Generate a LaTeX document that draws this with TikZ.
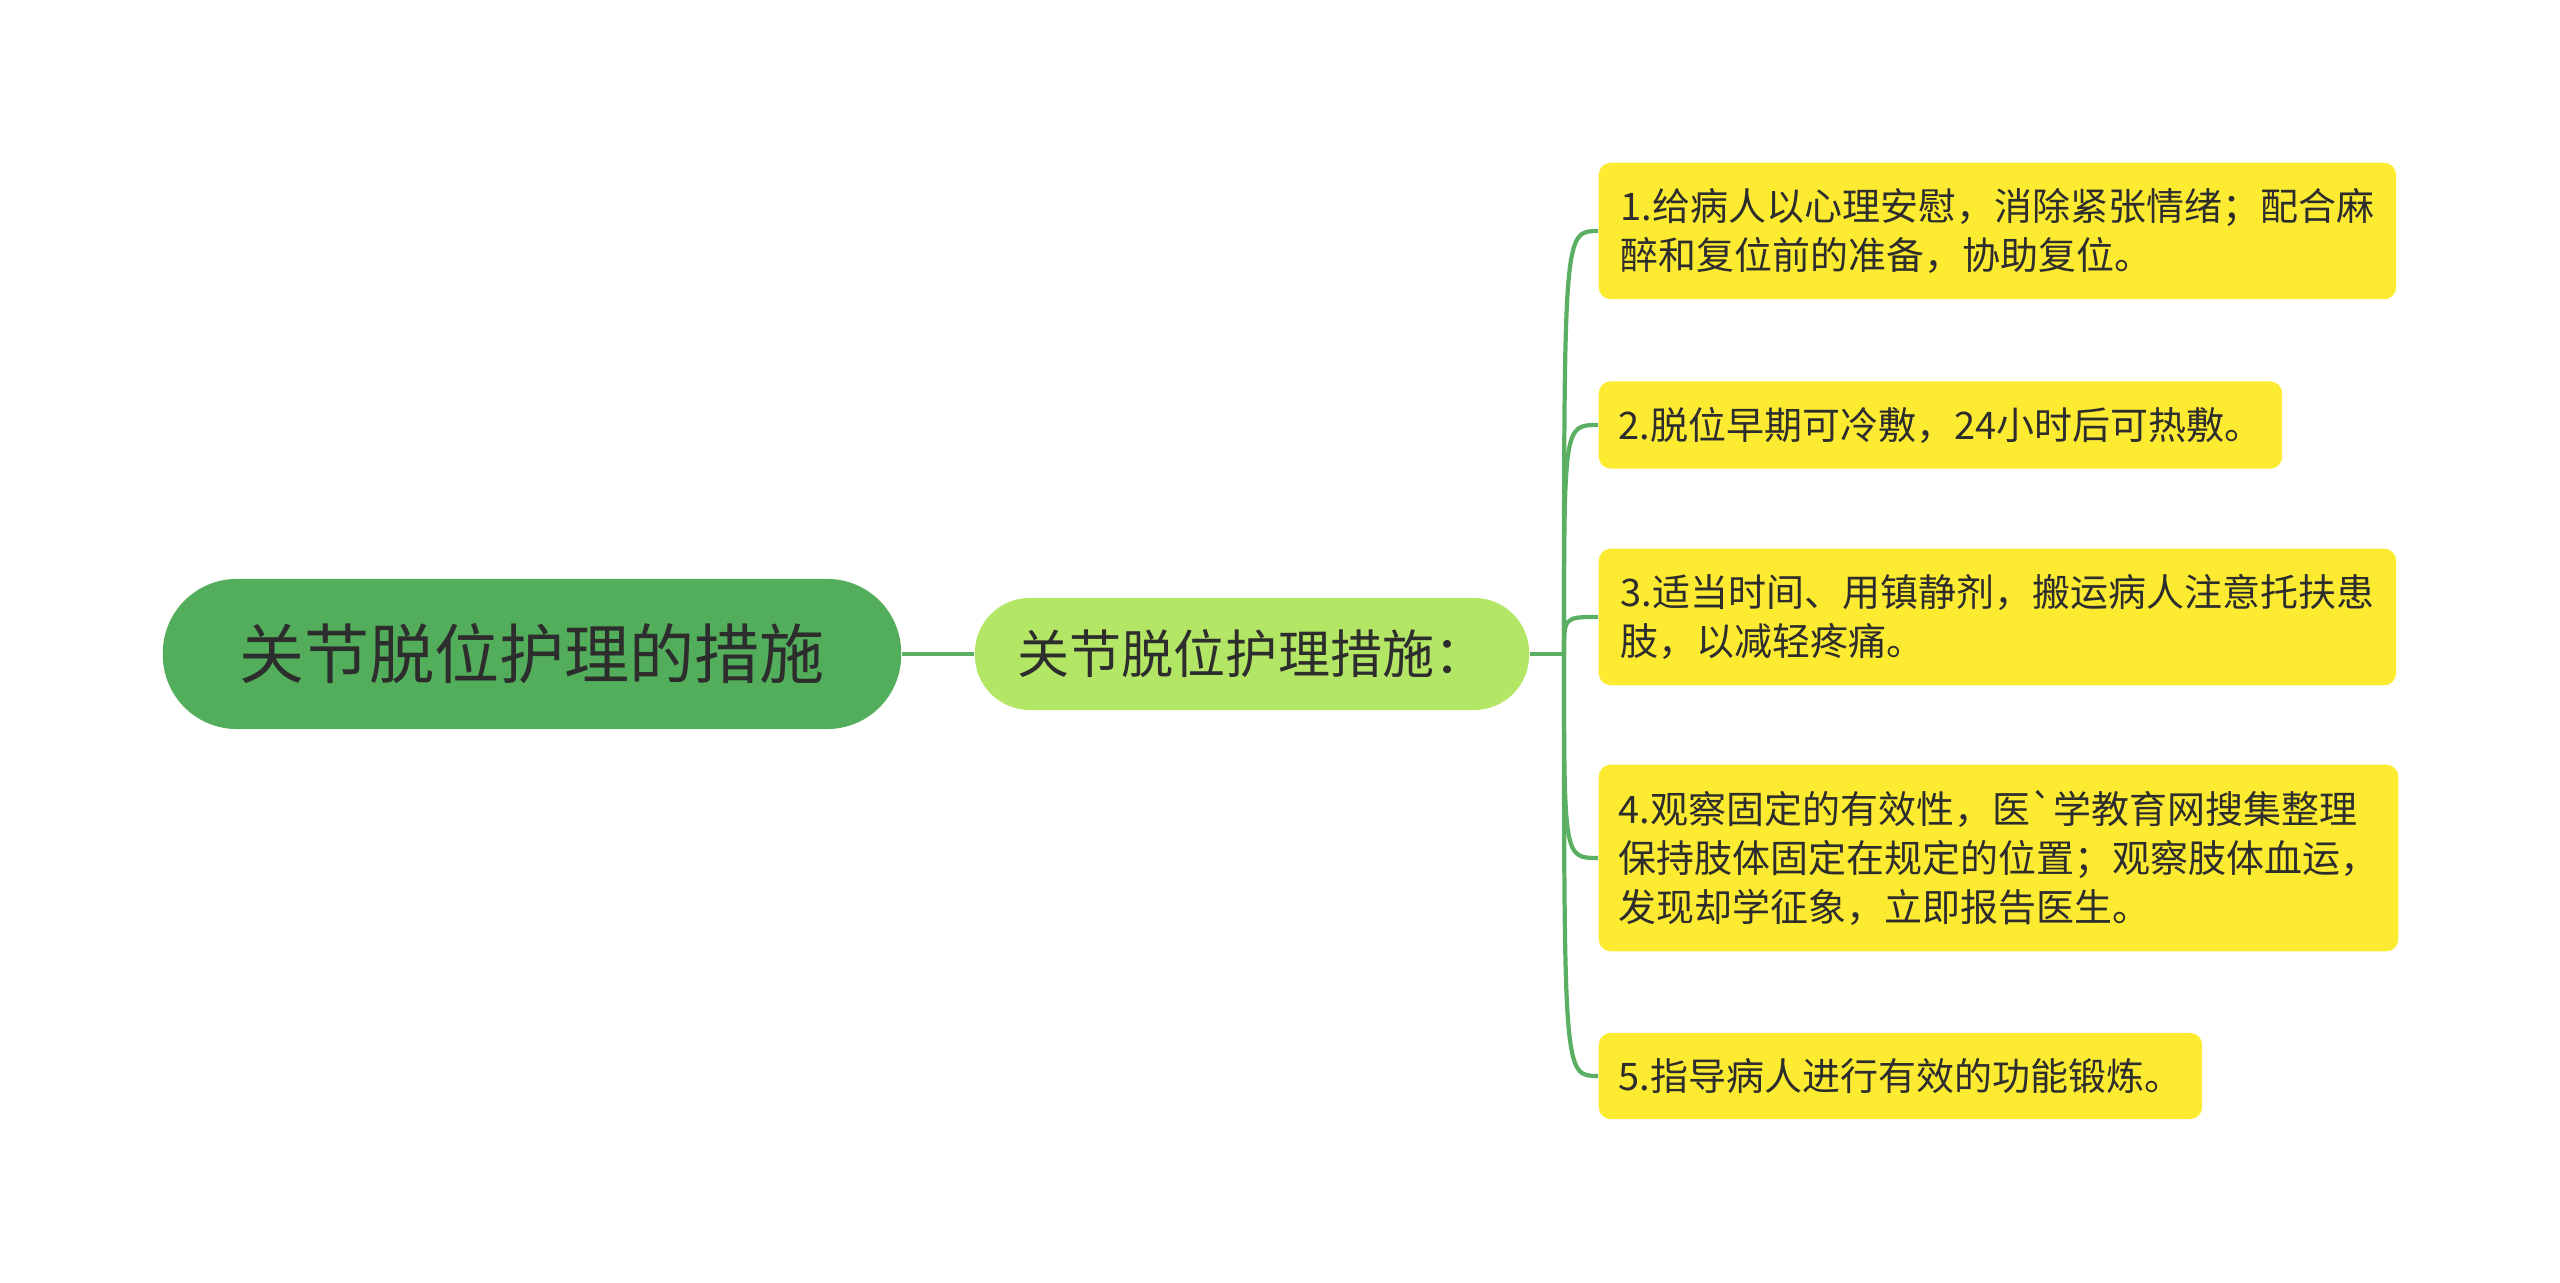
\documentclass[tikz,border=0pt]{standalone}
\usepackage{fontspec}
\setmainfont{Noto Sans CJK SC}
\usepackage{tikz}
\definecolor{rootgreen}{HTML}{52AE5B}
\definecolor{subgreen}{HTML}{B3E665}
\definecolor{leafyellow}{HTML}{FDEB32}
\definecolor{linegreen}{HTML}{5BAF62}
\definecolor{inkdark}{HTML}{2D2D2D}
\tikzset{
  mapnode/.style = {align=center, inner sep=0pt, text=inkdark},
  rootnd/.style = {mapnode, fill=rootgreen, minimum width=7.38cm,
    minimum height=1.5cm, rounded corners=0.74cm,
    font=\fontsize{18.5}{22}\selectfont},% main topic
  subnd/.style = {mapnode, fill=subgreen, minimum width=5.54cm,
    minimum height=1.12cm, rounded corners=0.55cm,
    font=\fontsize{14.8}{18}\selectfont},% sub topic
  leafnd/.style = {mapnode, align=left, anchor=west, fill=leafyellow,
    rounded corners=0.12cm, inner xsep=0.2cm, inner ysep=0.255cm,
    font=\fontsize{10.8}{14}\selectfont},% yellow box
  link/.style = {draw=linegreen, line width=1.2pt}
}
\begin{document}
\begin{tikzpicture}[x=0.01cm,y=-0.01cm]
\useasboundingbox (0,0) rectangle (2560,1283);
\node [rootnd] (root) at (532,654) {关节脱位护理的措施};
\node [subnd] (sub) at (1252,654) {关节脱位护理措施：};
\coordinate (br) at (1564,654);
\node [leafnd, minimum width=7.97cm] (l1) at (1598,231)
  {1.给病人以心理安慰，消除紧张情绪；配合麻\\醉和复位前的准备，协助复位。};
\node [leafnd] (l2) at (1598,425) {2.脱位早期可冷敷，24小时后可热敷。};
\node [leafnd, minimum width=7.97cm] (l3) at (1598,617)
  {3.适当时间、用镇静剂，搬运病人注意托扶患\\肢，以减轻疼痛。};
\node [leafnd, minimum width=7.97cm] (l4) at (1598,858)
  {4.观察固定的有效性，医\textasciigrave 学教育网搜集整理\\保持肢体固定在规定的位置；观察肢体血运，\\发现却学征象，立即报告医生。};
\node [leafnd] (l5) at (1598,1076) {5.指导病人进行有效的功能锻炼。};
\draw [link] (root.east) -- (sub.west);
\draw [link] (sub.east) -- (br);
\foreach \n in {l1,l2,l3,l4,l5}
  \draw [link] (br) .. controls (br |- \n.west) .. (\n.west);
\end{tikzpicture}
\end{document}
